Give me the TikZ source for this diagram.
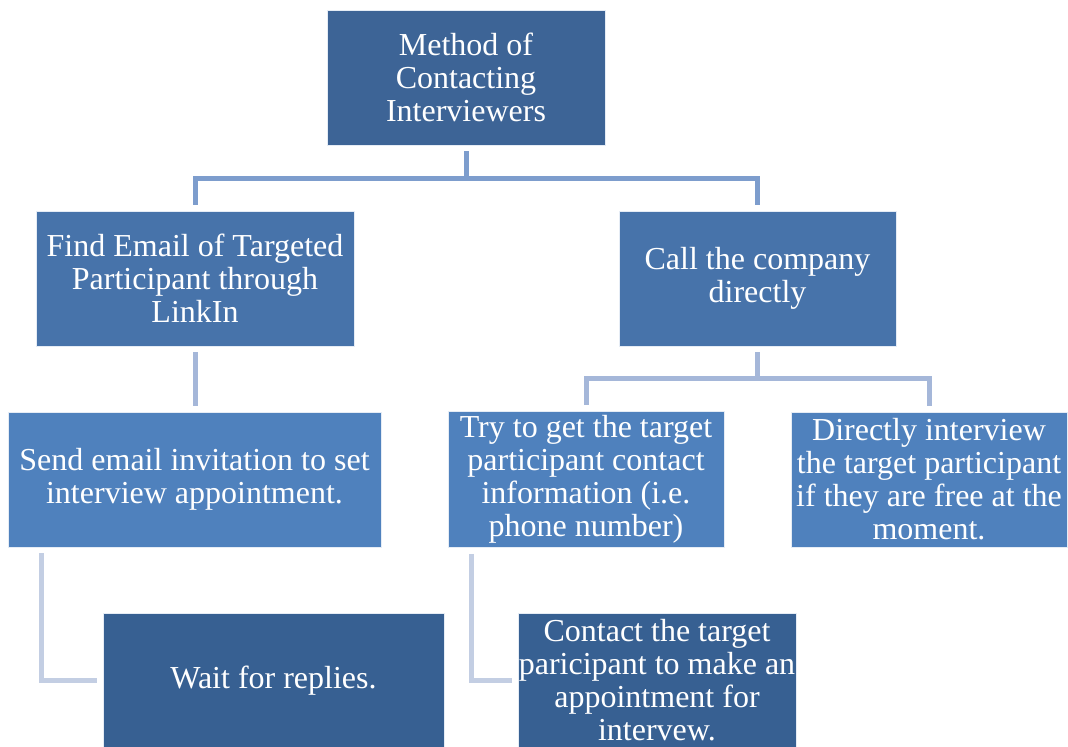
\documentclass[tikz,border=0pt]{standalone}
\usepackage{fontspec}
\setmainfont{Liberation Serif}
\usepackage{xcolor}
\usetikzlibrary{arrows.meta,positioning,calc}

\definecolor{rootblue}{RGB}{61,100,150}
\definecolor{midblue}{RGB}{71,115,170}
\definecolor{lowblue}{RGB}{79,129,189}
\definecolor{leafblue}{RGB}{55,96,146}
\definecolor{linkone}{RGB}{125,157,205}
\definecolor{linktwo}{RGB}{165,183,217}
\definecolor{linkthree}{RGB}{195,206,227}

\begin{document}
\begin{tikzpicture}[x=0.5pt, y=-0.5pt,
  box/.style={draw=white!85!lowblue, line width=0.4pt, text=white, align=center,
    minimum height=67.5pt, inner xsep=0pt, inner ysep=2pt, font=\fontsize{16}{16.5}\selectfont},
  link/.style={line width=2.5pt}
]
\fill[white] (0,0) rectangle (1068,746);
\useasboundingbox (0,0) rectangle (1068,746);

\node[box, fill=rootblue, minimum width=139pt] (root) at (466,77.5) {Method of\\Contacting\\Interviewers};
\node[box, fill=midblue, minimum width=159pt] (find) at (195,278.5) {Find Email of Targeted\\Participant through\\LinkIn};
\node[box, fill=midblue, minimum width=138.5pt] (call) at (757.5,278.5) {Call the company\\directly};
\node[box, fill=lowblue, minimum width=186.5pt] (send) at (194.5,479.5) {Send email invitation to set\\interview appointment.};
\node[box, fill=lowblue, minimum width=138pt] (tryget) at (586,479.5) {Try to get the target\\participant contact\\information (i.e.\\phone number)};
\node[box, fill=lowblue, minimum width=138pt] (direct) at (929,479.5) {Directly interview\\the target participant\\if they are free at the\\moment.};
\node[box, fill=leafblue, minimum width=170.5pt] (wait) at (273.5,680.5) {Wait for replies.};
\node[box, fill=leafblue, minimum width=139pt] (contact) at (657,680.5) {Contact the target\\paricipant to make an\\appointment for\\intervew.};

\draw[link, linkone] ([yshift=-3pt]root.south) -- ++(0,-13.5pt) -| ([yshift=3pt]find.north);
\draw[link, linkone] ([yshift=-3pt]root.south) -- ++(0,-13.5pt) -| ([yshift=3pt]call.north);
\draw[link, linktwo] ([yshift=-3pt]find.south) -- ([yshift=3pt]find.south |- send.north);
\draw[link, linktwo] ([yshift=-3pt]call.south) -- ++(0,-13pt) -| ([yshift=3pt]tryget.north);
\draw[link, linktwo] ([yshift=-3pt]call.south) -- ++(0,-13pt) -| ([yshift=3pt]direct.north);
\draw[link, linkthree] ([xshift=17pt,yshift=-3pt]send.south west) |- ([xshift=-3pt]wait.west);
\draw[link, linkthree] ([xshift=12pt,yshift=-3pt]tryget.south west) |- ([xshift=-3pt]contact.west);
\end{tikzpicture}
\end{document}
